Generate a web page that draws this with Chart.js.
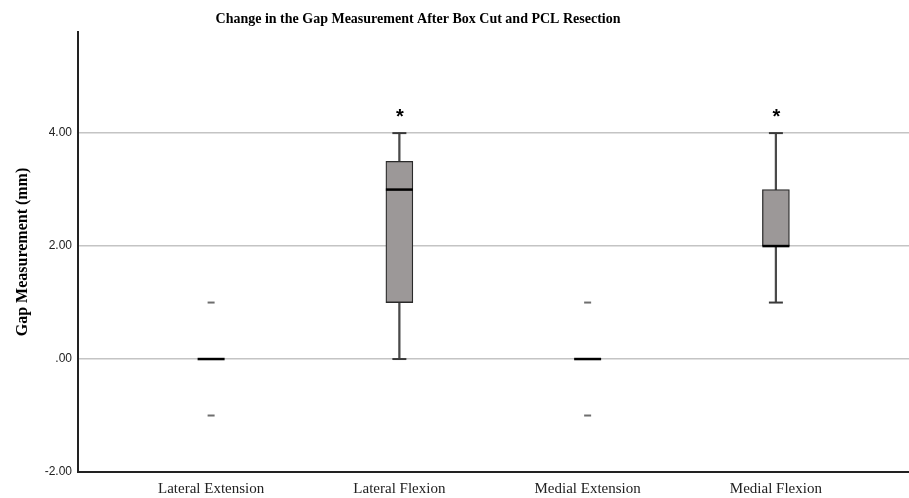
<!DOCTYPE html>
<html>
<head>
<meta charset="utf-8">
<title>Change in the Gap Measurement After Box Cut and PCL Resection</title>
<script src="https://cdn.jsdelivr.net/npm/chart.js@4.4.1/dist/chart.umd.min.js"></script>
<style>
  html, body { margin: 0; padding: 0; background: #ffffff; }
  #wrap { width: 909px; height: 498px; position: relative; }
</style>
</head>
<body>
<div id="wrap"><canvas id="chart" width="909" height="498"></canvas></div>
<script>
// Box-plot summary per group (mm)
const categories = ['Lateral Extension', 'Lateral Flexion', 'Medial Extension', 'Medial Flexion'];
const mins    = [0, 0,   0, 1];
const q1s     = [0, 1,   0, 2];
const medians = [0, 3,   0, 2];
const q3s     = [0, 3.5, 0, 3];
const maxs    = [0, 4,   0, 4];
const outliers = [[1, -1], [], [1, -1], []];
const significant = [false, true, false, true];

const yTicks = [-2, 0, 2, 4];
const titleText = 'Change in the Gap Measurement After Box Cut and PCL Resection';

function fmtTick(v) {
  const s = Math.abs(v).toFixed(2);
  const t = s.startsWith('0') ? s.slice(1) : s;
  return (v < 0 ? '-' : '') + t;
}

const whiskerData = categories.map((c, i) => ({ x: i, y: [mins[i], maxs[i]] }));
const boxData = categories.map((c, i) => ({ x: i, y: [q1s[i], q3s[i]] }));
const medianData = categories.map((c, i) => ({ x: i, y: medians[i] }));
const capData = [];
categories.forEach((c, i) => {
  if (maxs[i] > q3s[i]) capData.push({ x: i, y: maxs[i] });
  if (mins[i] < q1s[i]) capData.push({ x: i, y: mins[i] });
});
const outlierData = [];
outliers.forEach((list, i) => list.forEach(v => outlierData.push({ x: i, y: v })));

// Title and significance asterisks
const annotations = {
  id: 'annotations',
  afterDraw(chart) {
    const ctx = chart.ctx;
    const xs = chart.scales.x, ys = chart.scales.y;
    ctx.save();
    ctx.fillStyle = '#000';
    ctx.font = 'bold 14px "Liberation Serif", "Times New Roman", serif';
    ctx.textAlign = 'center';
    ctx.textBaseline = 'middle';
    ctx.fillText(titleText, 418, 19);

    ctx.font = 'bold 20px "Liberation Sans", Arial, sans-serif';
    ctx.textBaseline = 'alphabetic';
    significant.forEach((s, i) => {
      if (!s) return;
      ctx.fillText('*', xs.getPixelForValue(i) + 0.5, ys.getPixelForValue(maxs[i]) - 10);
    });
    ctx.restore();
  }
};

new Chart(document.getElementById('chart'), {
  type: 'bar',
  data: {
    datasets: [
      {
        type: 'bar', data: whiskerData, grouped: false, order: 4,
        barThickness: 1.6, backgroundColor: '#4a4a4a', borderWidth: 0
      },
      {
        type: 'bar', data: boxData, grouped: false, order: 3,
        barThickness: 27, backgroundColor: '#9c9898',
        borderColor: '#2a2a2a', borderWidth: 1.3, borderSkipped: false
      },
      {
        type: 'scatter', data: capData, order: 2,
        pointStyle: 'line', radius: 7, borderWidth: 2, borderColor: '#3a3a3a'
      },
      {
        type: 'scatter', data: outlierData, order: 2,
        pointStyle: 'line', radius: 3.5, borderWidth: 2, borderColor: '#6e6e6e'
      },
      {
        type: 'scatter', data: medianData, order: 1,
        pointStyle: 'line', radius: 13.5, borderWidth: 2.5, borderColor: '#000'
      }
    ]
  },
  options: {
    responsive: false,
    animation: false,
    events: [],
    layout: { autoPadding: false, padding: { top: 32, left: 0, right: 0, bottom: 0 } },
    plugins: {
      legend: { display: false },
      tooltip: { enabled: false },
      title: { display: false }
    },
    scales: {
      x: {
        type: 'linear',
        offset: false,
        min: -0.707, max: 3.707,
        afterBuildTicks(scale) { scale.ticks = categories.map((c, i) => ({ value: i })); },
        afterFit(scale) { scale.height = 26; scale.paddingLeft = 0; scale.paddingRight = 0; },
        ticks: {
          callback: v => categories[v],
          font: { family: '"Liberation Serif", "Times New Roman", serif', size: 15 },
          color: '#222', padding: 8, maxRotation: 0, autoSkip: false
        },
        grid: { display: false, drawTicks: false, offset: false },
        border: { display: true, color: '#222', width: 2 }
      },
      y: {
        type: 'linear',
        min: -2, max: 5.79,
        afterBuildTicks(scale) { scale.ticks = yTicks.map(v => ({ value: v })); },
        afterFit(scale) { scale.width = 78; },
        ticks: {
          callback: v => fmtTick(v),
          font: { family: '"Liberation Sans", Arial, sans-serif', size: 12 },
          color: '#222', padding: 6
        },
        grid: { color: '#c4c4c4', lineWidth: 1.5, drawTicks: false },
        border: { display: true, color: '#222', width: 2 },
        title: {
          display: true,
          text: 'Gap Measurement (mm)',
          font: { family: '"Liberation Serif", "Times New Roman", serif', size: 16, weight: 'bold' },
          color: '#000',
          padding: { top: 13, bottom: 0 }
        }
      }
    }
  },
  plugins: [annotations]
});
</script>
</body>
</html>
